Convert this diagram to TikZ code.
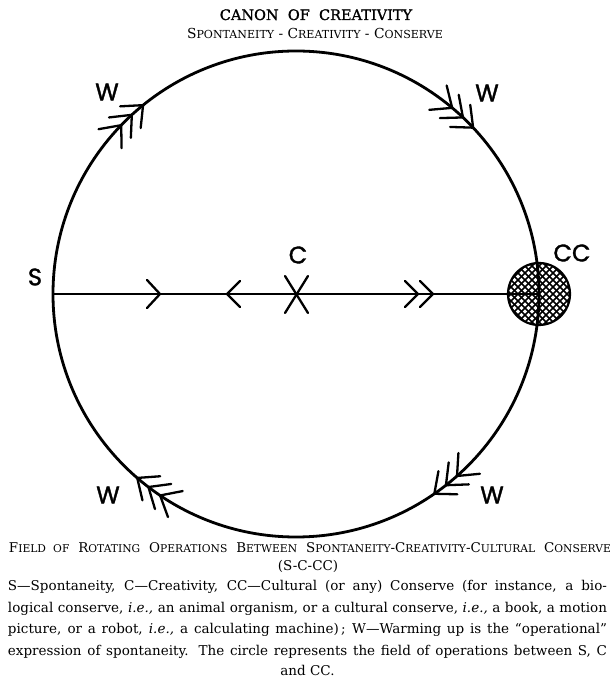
\documentclass[tikz,border=0pt]{standalone}
\usepackage{fontspec}
\setmainfont{DejaVu Serif}
\newfontfamily\scf[Scale=0.8]{DejaVu Serif}
\newfontfamily\ttlf[FakeBold=1.2]{DejaVu Serif}
\newfontfamily\lblf[FakeBold=1.5]{Poppins}
\begin{document}
\begin{tikzpicture}[x=1pt,y=1pt,
  lbl/.style={font=\lblf\fontsize{24}{24}\selectfont, inner sep=0},
  txt/.style={font=\fontsize{13.5}{15}\selectfont, inner sep=0, anchor=base},
  chev/.style={line width=2.3pt, line cap=round, line join=miter},
  hatch/.style={line width=1.7pt}]
\useasboundingbox (0,0) rectangle (614,678);
\coordinate (O) at (296,384);
\def\R{243}
\coordinate (S) at (53,384);
\coordinate (CCc) at (539,384);
% hatched conserve disc
\begin{scope}
  \clip (CCc) circle (31);
  \foreach \k in {-70,-63,...,70} {
    \draw[hatch,shift={(CCc)}] ({\k-40},-40) -- ++(80,80);
    \draw[hatch,shift={(CCc)}] ({\k-40},40) -- ++(80,-80);
  }
\end{scope}
\draw[line width=2.2pt] (CCc) circle (31);
\draw[line width=1.9pt] (S) -- (CCc);
\draw[line width=2.8pt] (O) circle (\R);
% chevrons on the axis
\draw[chev] (147,398) -- (160,384) -- (147,370);
\draw[chev] (240,397) -- (227,384) -- (240,371);
\draw[chev] (285,402) -- (308,365);
\draw[chev] (308,402) -- (285,365);
\draw[chev] (405,397) -- (418,384) -- (405,371);
\draw[chev] (420,397) -- (433,384) -- (420,371);
% warming-up arrows on the circle
\foreach \a in {129,132.5,136,43.2,46.6,50,-55.3,-51.9,-48.5,229.2,232.6,236} {
  \draw[chev,shift={(O)}] ([shift={(\a+54:23)}]\a:\R) -- (\a:\R) -- ++(\a+135:23);
}
% labels
\node[lbl] (s) at (35,401) {S};
\node[lbl] (c) at (298,423) {C};
\node[lbl] (cc) at (572,425) {CC};
\node[lbl] (w1) at (107,586) {W};
\node[lbl] (w2) at (487,585) {W};
\node[lbl] (w3) at (108,183) {W};
\node[lbl] (w4) at (492,183) {W};
% titles
\node[txt,font=\ttlf\fontsize{14.5}{16}\selectfont] (t1) at (316,658) {CANON\ \ OF\ \ CREATIVITY};
\node[txt,font=\fontsize{13.8}{16}\selectfont] (t2) at (315,639) {S{\scf PONTANEITY} - C{\scf REATIVITY} - C{\scf ONSERVE}};
% caption
\node[txt,font=\fontsize{13.4}{16}\selectfont] (c1) at (310,125) {\makebox[602pt][s]{F{\scf IELD OF} R{\scf OTATING} O{\scf PERATIONS} B{\scf ETWEEN} S{\scf PONTANEITY}-C{\scf REATIVITY}-C{\scf ULTURAL} C{\scf ONSERVE}}};
\node[txt] (c2) at (308,107) {(S-C-CC)};
\node[txt] (p1) at (307.5,87) {\makebox[599pt][s]{S—Spontaneity, C—Creativity, CC—Cultural (or any) Conserve (for instance, a bio-}};
\node[txt] (p2) at (307.5,65.5) {\makebox[599pt][s]{logical conserve, \textit{i.e.,} an animal organism, or a cultural conserve, \textit{i.e.,} a book, a motion}};
\node[txt] (p3) at (307.5,44) {\makebox[599pt][s]{picture, or a robot, \textit{i.e.,} a calculating machine)\,; W—Warming up is the “operational”}};
\node[txt] (p4) at (307.5,23) {\makebox[599pt][s]{expression of spontaneity. The circle represents the field of operations between S, C}};
\node[txt] (p5) at (307.5,2) {and CC.};
\end{tikzpicture}
\end{document}
